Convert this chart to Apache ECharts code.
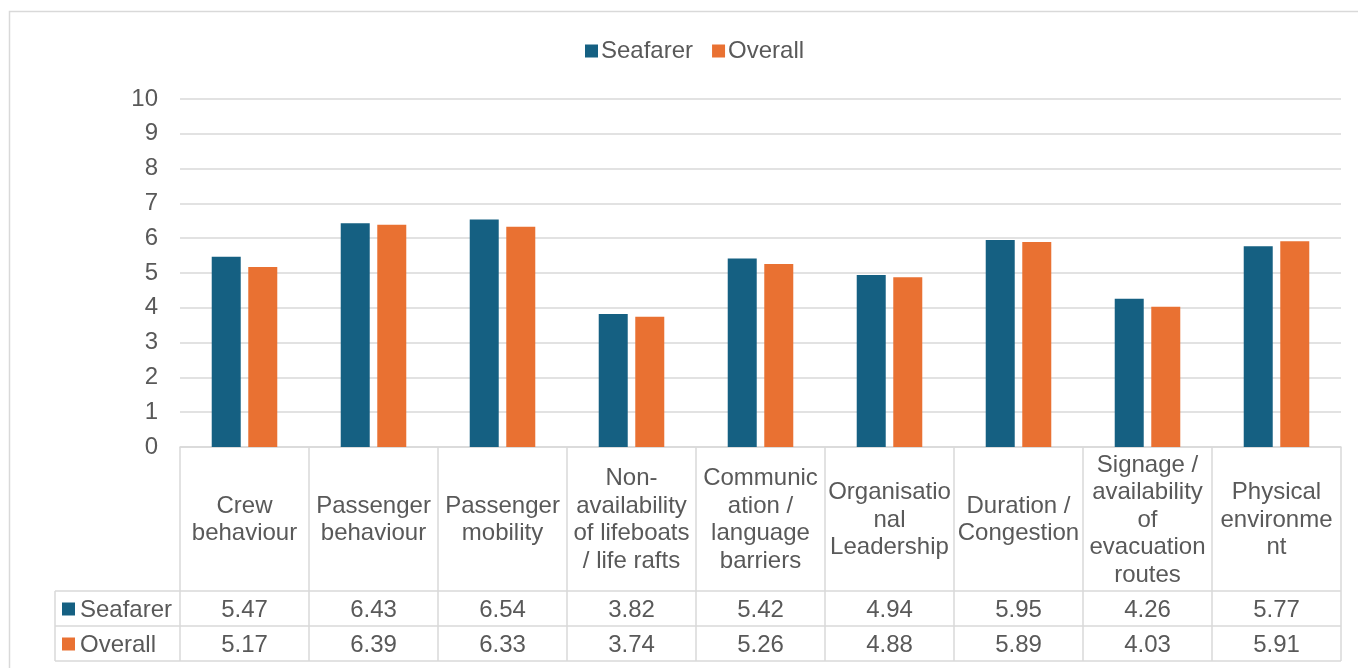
<!DOCTYPE html>
<html>
<head>
<meta charset="utf-8">
<style>
  html, body { margin: 0; padding: 0; background: #ffffff; }
  #chart { width: 1358px; height: 668px; }
</style>
<script src="https://cdn.jsdelivr.net/npm/echarts@6/dist/echarts.min.js"></script>
</head>
<body>
<div id="chart"></div>
<script>
// Category headers (wrapped as they appear in the data table)
const categories = [
  'Crew\nbehaviour',
  'Passenger\nbehaviour',
  'Passenger\nmobility',
  'Non-\navailability\nof lifeboats\n/ life rafts',
  'Communic\nation /\nlanguage\nbarriers',
  'Organisatio\nnal\nLeadership',
  'Duration /\nCongestion',
  'Signage /\navailability\nof\nevacuation\nroutes',
  'Physical\nenvironme\nnt'
];
const seriesNames = ['Seafarer', 'Overall'];
const seafarer = [5.47, 6.43, 6.54, 3.82, 5.42, 4.94, 5.95, 4.26, 5.77];
const overall  = [5.17, 6.39, 6.33, 3.74, 5.26, 4.88, 5.89, 4.03, 5.91];
const yTicks = [0, 1, 2, 3, 4, 5, 6, 7, 8, 9, 10];

const colors = ['#156082', '#E97132'];
const textColor = '#595959';
const lineColor = '#d9d9d9';
const fontFamily = '"Liberation Sans", Arial, sans-serif';
const fontSize = 24;

// Layout of the plot area and data table
const plot = { left: 180, right: 1341, top: 99, bottom: 447 };
const tableLeft = 55;
const rowSeafarer = { top: 591, bottom: 626 };
const rowOverall = { top: 626, bottom: 661 };

const chart = echarts.init(document.getElementById('chart'), null, { renderer: 'canvas' });

// Extra category axes that print the value rows of the data table
function valueRowAxis(values, centerY) {
  return {
    type: 'category',
    data: categories,
    position: 'bottom',
    gridIndex: 0,
    axisLine: { show: false },
    axisTick: { show: false },
    axisLabel: {
      interval: 0,
      margin: centerY - plot.bottom,
      verticalAlign: 'middle',
      color: textColor,
      fontFamily: fontFamily,
      fontSize: fontSize,
      formatter: (v, i) => values[i].toFixed(2)
    },
    splitLine: { show: false }
  };
}

const option = {
  backgroundColor: '#ffffff',
  animation: false,
  color: colors,
  textStyle: { fontFamily: fontFamily },
  legend: {
    data: seriesNames,
    left: 580,
    top: 34,
    icon: 'rect',
    itemWidth: 13,
    itemHeight: 13,
    itemGap: 19,
    textStyle: { color: textColor, fontSize: fontSize, fontFamily: fontFamily, padding: [0, 0, 0, -2] }
  },
  grid: {
    left: plot.left,
    right: 1358 - plot.right,
    top: plot.top,
    bottom: 668 - plot.bottom,
    containLabel: false
  },
  xAxis: [
    {
      type: 'category',
      data: categories,
      axisLine: { show: true, lineStyle: { color: lineColor, width: 1.5 } },
      axisTick: {
        show: true,
        alignWithLabel: false,
        inside: false,
        length: rowOverall.bottom - plot.bottom,
        lineStyle: { color: lineColor, width: 1.5 }
      },
      axisLabel: {
        interval: 0,
        margin: 73,
        verticalAlign: 'middle',
        align: 'center',
        lineHeight: 27.5,
        color: textColor,
        fontFamily: fontFamily,
        fontSize: fontSize
      },
      splitLine: { show: false }
    },
    valueRowAxis(seafarer, (rowSeafarer.top + rowSeafarer.bottom) / 2 + 1.5),
    valueRowAxis(overall, (rowOverall.top + rowOverall.bottom) / 2 + 1.5)
  ],
  yAxis: {
    type: 'value',
    min: yTicks[0],
    max: yTicks[yTicks.length - 1],
    interval: 1,
    axisLine: { show: false },
    axisTick: { show: false },
    axisLabel: { color: textColor, fontFamily: fontFamily, fontSize: fontSize, margin: 22, padding: [5, 0, 0, 0] },
    splitLine: { lineStyle: { color: lineColor, width: 1.5 } }
  },
  series: [
    {
      name: seriesNames[0],
      type: 'bar',
      data: seafarer,
      barWidth: 29,
      barGap: '26%',
      itemStyle: { color: colors[0] }
    },
    {
      name: seriesNames[1],
      type: 'bar',
      data: overall,
      barWidth: 29,
      barGap: '26%',
      itemStyle: { color: colors[1] }
    }
  ],
  graphic: []
};

chart.setOption(option);

// Data-table frame, row headers and the outer chart border
const lineStyle = { stroke: lineColor, lineWidth: 1.5 };
const graphics = [
  { type: 'rect', shape: { x: 9.5, y: 11.5, width: 1400, height: 700 }, style: { fill: null, stroke: lineColor, lineWidth: 1.5 }, silent: true },
  { type: 'line', shape: { x1: tableLeft, y1: rowSeafarer.top, x2: plot.right, y2: rowSeafarer.top }, style: lineStyle, silent: true },
  { type: 'line', shape: { x1: tableLeft, y1: rowOverall.top, x2: plot.right, y2: rowOverall.top }, style: lineStyle, silent: true },
  { type: 'line', shape: { x1: tableLeft, y1: rowOverall.bottom, x2: plot.right, y2: rowOverall.bottom }, style: lineStyle, silent: true },
  { type: 'line', shape: { x1: tableLeft, y1: rowSeafarer.top, x2: tableLeft, y2: rowOverall.bottom }, style: lineStyle, silent: true }
];
[rowSeafarer, rowOverall].forEach((row, k) => {
  const cy = (row.top + row.bottom) / 2;
  graphics.push({ type: 'rect', shape: { x: 62, y: cy - 6, width: 13, height: 13 }, style: { fill: colors[k] }, silent: true });
  graphics.push({
    type: 'text', x: 80, y: cy + 1.5,
    style: { text: seriesNames[k], fill: textColor, font: fontSize + 'px ' + fontFamily, textVerticalAlign: 'middle', verticalAlign: 'middle' },
    silent: true
  });
});
chart.setOption({ graphic: graphics });
</script>
</body>
</html>
